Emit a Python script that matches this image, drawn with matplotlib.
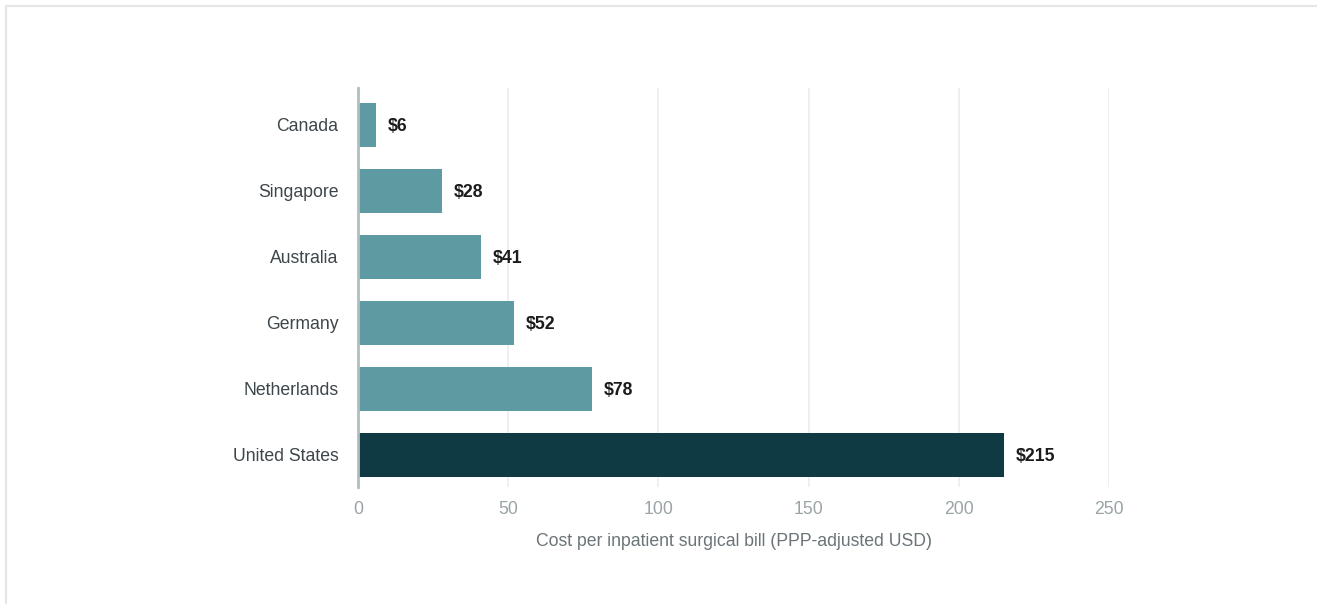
import matplotlib
matplotlib.use("Agg")
import matplotlib.pyplot as plt
from matplotlib.patches import Rectangle

countries = ["Canada", "Singapore", "Australia", "Germany", "Netherlands", "United States"]
costs = [6, 28, 41, 52, 78, 215]
value_labels = ["$6", "$28", "$41", "$52", "$78", "$215"]
xticks = [0, 50, 100, 150, 200, 250]

TEAL = "#5e9aa1"
DARK = "#0f3a44"
FS = 12.7

plt.rcParams["font.family"] = ["Liberation Sans", "DejaVu Sans"]

W, H = 1317, 604
fig = plt.figure(figsize=(W / 100, H / 100), dpi=100)
fig.patch.set_facecolor("white")
# light frame round the card
fig.patches.append(Rectangle((6 / W, -0.1), 2, 1.1 - 6 / H, transform=fig.transFigure,
                             fill=False, edgecolor="#e3e7e8", linewidth=1.5))

ax = fig.add_axes([358 / W, 1 - 487 / H, (1109 - 358) / W, (487 - 88) / H])
colors = [DARK if c == "United States" else TEAL for c in countries]
ypos = list(range(len(countries)))
ax.barh(ypos, costs, height=0.667, color=colors, zorder=3)

for y, v, lbl in zip(ypos, costs, value_labels):
    ax.annotate(lbl, xy=(v, y), xytext=(8.5, -1), textcoords="offset points",
                va="center", ha="left", fontsize=FS, fontweight="bold", color="#1c1c1c")

ax.set_xlim(0, 250)
ax.set_ylim(len(countries) - 1 + 0.485, -0.56)
ax.set_yticks(ypos)
ax.set_yticklabels(countries, fontsize=FS, color="#3c464b")
ax.set_xticks(xticks)
ax.set_xticklabels([str(t) for t in xticks], fontsize=FS, color="#9aa4a7")
ax.tick_params(axis="y", length=0, pad=14)
ax.tick_params(axis="x", length=0, pad=10)

for t in xticks[1:]:
    ax.axvline(t, color="#ececec", linewidth=1.2, zorder=1)

for s in ["top", "right", "bottom"]:
    ax.spines[s].set_visible(False)
ax.spines["left"].set_color("#b3bcbf")
ax.spines["left"].set_linewidth(2)
ax.spines["left"].set_zorder(4)

ax.set_xlabel("Cost per inpatient surgical bill (PPP-adjusted USD)",
              fontsize=FS, color="#6b7478", labelpad=11)

fig.savefig("out.png", dpi=100)
